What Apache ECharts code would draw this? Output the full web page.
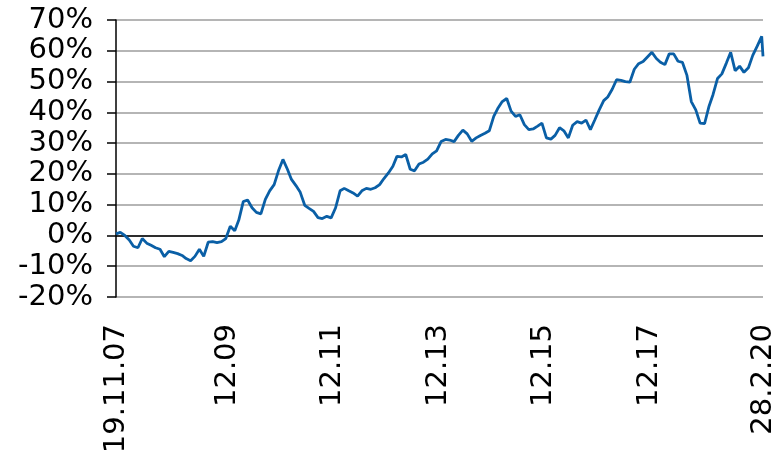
<!DOCTYPE html>
<html>
<head>
<meta charset="utf-8">
<script src="https://cdn.jsdelivr.net/npm/echarts@6/dist/echarts.min.js"></script>
<style>
html, body { margin: 0; padding: 0; background: #fff; }
#chart { width: 778px; height: 461px; }
</style>
</head>
<body>
<div id="chart"></div>
<script>
// monthly readings from 19.11.07, last one on 28.2.20 (percent)
var firstDay = '2007-11-19';
var lastDay = '2020-02-28';
var values = [
    0.5, 1, 0, -1.5, -3.5, -4, -1, -2.5, -3.2, -4, -4.5, -6.9,
    -5.2, -5.5, -5.9, -6.5, -7.5, -8.2, -6.8, -4.5, -6.8, -2.2, -2, -2.3,
    -2, -1, 3, 1.5, 5, 11, 11.5, 9, 7.5, 7, 11.7, 14.5,
    16.5, 21, 24.7, 21.5, 18.2, 16.2, 14, 9.8, 8.8, 7.8, 5.8, 5.5,
    6.2, 5.7, 9, 14.5, 15.3, 14.5, 13.8, 12.8, 14.5, 15.3, 15, 15.5,
    16.5, 18.5, 20.3, 22.5, 25.7, 25.5, 26.3, 21.5, 21, 23.2, 23.8, 24.8,
    26.5, 27.5, 30.5, 31.2, 31, 30.5, 32.5, 34.2, 33, 30.6, 31.7, 32.5,
    33.2, 34, 38.7, 41.5, 43.5, 44.5, 40.4, 38.7, 39.2, 36, 34.4, 34.6,
    35.5, 36.5, 31.7, 31.3, 32.5, 35, 34, 31.7, 35.8, 37, 36.5, 37.5,
    34.4, 37.5, 40.8, 43.8, 45, 47.5, 50.6, 50.4, 50, 49.8, 54, 55.8,
    56.5, 58, 59.5, 57.5, 56.3, 55.5, 59, 59, 56.6, 56.2, 52, 43.5,
    40.8, 36.5, 36.3, 42, 45.8, 51, 52.5, 56, 59.5, 53.5, 55, 53,
    54.5, 58.5, 61.5, 64.7,
    58.2
];

var tickDates = ['2007-11-19', '2009-12-31', '2011-12-31', '2013-12-31', '2015-12-31', '2017-12-31', '2020-02-28'];
var tickLabels = ['19.11.07', '12.09', '12.11', '12.13', '12.15', '12.17', '28.2.20'];

function toTime(s) {
    var p = s.split('-');
    return new Date(+p[0], +p[1] - 1, +p[2]).getTime();
}

var start = toTime(firstDay);
var d0 = new Date(start);
var points = [];
for (var i = 0; i < values.length - 1; i++) {
    points.push([new Date(d0.getFullYear(), d0.getMonth() + i, d0.getDate()).getTime(), values[i]]);
}
points.push([toTime(lastDay), values[values.length - 1]]);

var tickTimes = tickDates.map(toTime);

var font = 'DejaVu Sans';

var option = {
    animation: false,
    grid: { left: 116, right: 15, top: 20, bottom: 164 },
    xAxis: {
        type: 'value',
        scale: true,
        min: tickTimes[0],
        max: tickTimes[tickTimes.length - 1],
        axisLine: { show: false },
        axisTick: { show: false },
        splitLine: { show: false },
        axisLabel: {
            customValues: tickTimes,
            rotate: 90,
            margin: 27,
            hideOverlap: false,
            showMinLabel: true,
            showMaxLabel: true,
            color: '#000',
            fontFamily: font,
            fontSize: 29,
            formatter: function (v) {
                for (var k = 0; k < tickTimes.length; k++) {
                    if (Math.abs(tickTimes[k] - v) < 86400000) return tickLabels[k];
                }
                return '';
            }
        }
    },
    yAxis: {
        type: 'value',
        min: -20,
        max: 70,
        interval: 10,
        axisLine: { show: true, lineStyle: { color: '#000', width: 1.5 } },
        axisTick: { show: true, length: 9, lineStyle: { color: '#000', width: 1.5 } },
        splitLine: { show: true, lineStyle: { color: '#9c9c9c', width: 1.5 } },
        axisLabel: {
            formatter: '{value}%',
            margin: 23,
            color: '#000',
            fontFamily: font,
            fontSize: 29
        }
    },
    series: [{
        type: 'line',
        data: points,
        showSymbol: false,
        lineStyle: { color: '#0a5fa6', width: 2.8 },
        z: 3,
        markLine: {
            silent: true,
            symbol: 'none',
            label: { show: false },
            lineStyle: { color: '#000', width: 1.5, type: 'solid' },
            data: [{ yAxis: 0 }],
            z: 2
        }
    }]
};

var myChart = echarts.init(document.getElementById('chart'));
myChart.setOption(option);
</script>
</body>
</html>
